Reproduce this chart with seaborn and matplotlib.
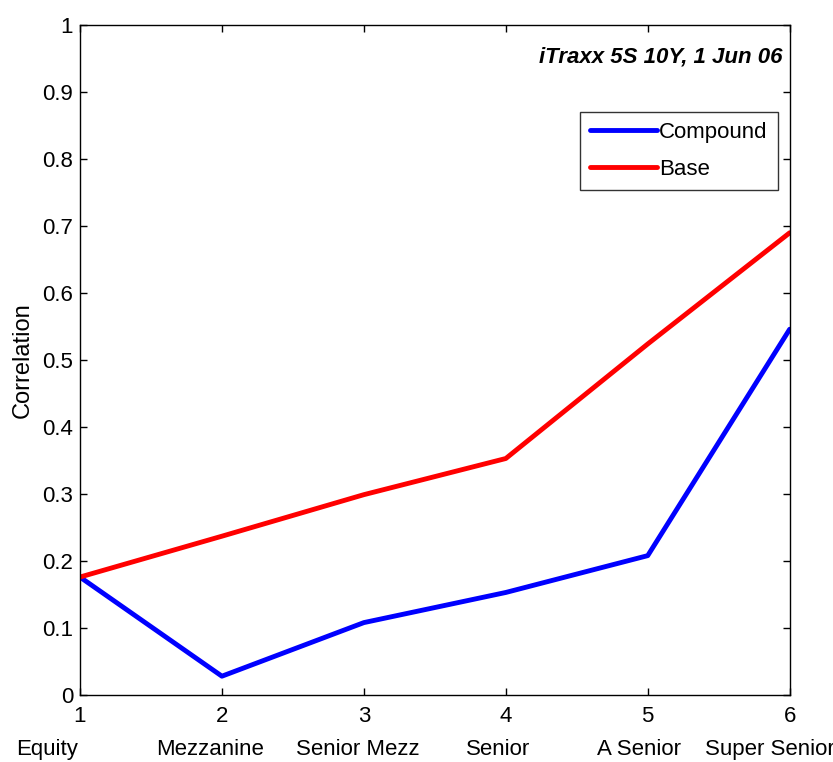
import matplotlib
matplotlib.use("Agg")
import matplotlib.pyplot as plt
import seaborn as sns
import pandas as pd

tranche_num = [1, 2, 3, 4, 5, 6]
tranche_names = ["Equity", "Mezzanine", "Senior Mezz", "Senior", "A Senior", "Super Senior"]
compound = [0.176, 0.028, 0.108, 0.153, 0.208, 0.546]
base = [0.176, 0.237, 0.299, 0.353, 0.524, 0.690]

df = pd.DataFrame({
    "Tranche": tranche_num * 2,
    "Correlation": compound + base,
    "Series": ["Compound"] * 6 + ["Base"] * 6,
})

sns.set_theme(style="white")
plt.rcParams["font.family"] = ["Liberation Sans", "DejaVu Sans"]
plt.rcParams.update({"text.color": "black", "axes.labelcolor": "black",
                     "xtick.color": "black", "ytick.color": "black"})

FS = 16
fig = plt.figure(figsize=(8.33, 7.62), dpi=100)
ax = fig.add_axes([0.096, 0.088, 0.852, 0.879])
sns.lineplot(data=df, x="Tranche", y="Correlation", hue="Series",
             palette={"Compound": "#0000ff", "Base": "#ff0000"},
             linewidth=3.5, ax=ax, legend=True)

ax.set_xlim(1, 6)
ax.set_ylim(0, 1)
ax.set_xticks(tranche_num)
ax.set_xticklabels([str(t) for t in tranche_num])
ax.set_yticks([i / 10 for i in range(11)])
ax.set_yticklabels(["0"] + [f"{i/10:.1f}" for i in range(1, 10)] + ["1"])
ax.tick_params(direction="in", length=5, width=1, labelsize=FS, color="black",
               labelcolor="black", top=True, right=True, bottom=True, left=True, pad=5)
ax.tick_params(axis="x", pad=8)
for s in ax.spines.values():
    s.set_color("black")
    s.set_linewidth(1)
ax.set_xlabel("")
ax.set_ylabel("Correlation", fontsize=17, labelpad=6, color="black")

# horizontal offsets (pixels) of category names relative to tick positions
name_dx = [-33, -12, -6, -8, -9, -20]
for t, name, dx in zip(tranche_num, tranche_names, name_dx):
    ax.annotate(name, xy=(t, 0), xycoords="data", xytext=(dx * 0.72, -39),
                textcoords="offset points", ha="center", va="center", fontsize=FS,
                color="black", annotation_clip=False)

ax.text(0.99, 0.952, "iTraxx 5S 10Y, 1 Jun 06", transform=ax.transAxes,
        ha="right", va="center", fontsize=FS, fontweight="bold", fontstyle="italic",
        color="black")

leg = ax.legend(loc="upper right", bbox_to_anchor=(0.983, 0.870), fontsize=FS,
                frameon=True, fancybox=False, edgecolor="black", handlelength=3.0,
                borderpad=0.45, labelspacing=0.7, handletextpad=0.1,
                borderaxespad=0)
leg.get_frame().set_linewidth(1)
for txt in leg.get_texts():
    txt.set_color("black")
for h in leg.get_lines():
    h.set_linewidth(3.5)

fig.savefig("out.png", dpi=100, facecolor="white")
